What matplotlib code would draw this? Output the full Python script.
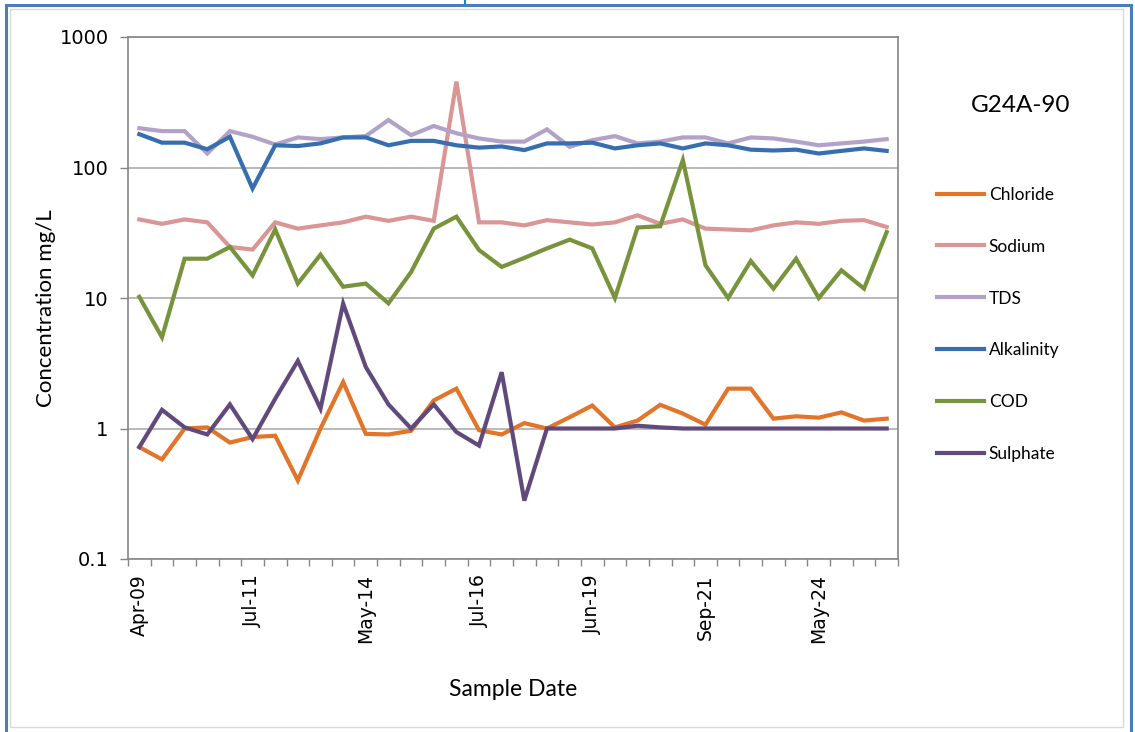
import matplotlib
matplotlib.use("Agg")
import matplotlib.pyplot as plt
from matplotlib.lines import Line2D
from matplotlib.ticker import FixedLocator, NullLocator

# === data ===
tick_labels = ['Apr-09', 'Jul-11', 'May-14', 'Jul-16', 'Jun-19', 'Sep-21', 'May-24']
tick_every = 5

chloride = [0.72, 0.58, 1.0, 1.02, 0.78, 0.86, 0.88, 0.40, 1.0, 2.27,
            0.91, 0.9, 0.96, 1.64, 2.02, 0.97, 0.9, 1.1, 1.0, 1.22,
            1.5, 1.02, 1.15, 1.52, 1.3, 1.07, 2.02, 2.02, 1.19, 1.24,
            1.21, 1.33, 1.15, 1.19]
sodium = [40, 37, 40, 38, 24.6, 23.5, 38, 34, 36, 38,
          42, 39, 42, 39, 455, 38, 38, 36, 39.5, 38,
          36.6, 38, 43, 37, 40, 34, 33.5, 33, 36, 38,
          37, 39, 39.5, 35]
tds = [200, 190, 190, 128, 190, 172, 150, 170, 165, 170,
       174, 231, 177, 208, 183, 167, 158, 158, 196, 144,
       162, 174, 153, 158, 170, 170, 153, 170, 167, 158,
       148, 153, 158, 165]
alkalinity = [180, 155, 155, 138, 172, 69, 148, 146, 153, 170,
              170, 148, 160, 160, 148, 142, 145, 136, 153, 153,
              155, 140, 148, 153, 140, 153, 148, 137, 135, 137,
              128, 134, 140, 134]
cod = [10.2, 5.0, 20, 20, 24.6, 14.9, 33.5, 12.9, 21.5, 12.2,
       12.9, 9.1, 15.8, 34, 42, 23.3, 17.3, 20.3, 24, 28,
       24, 10, 34.7, 35.5, 114, 17.8, 10, 19.2, 11.8, 20,
       10, 16.3, 11.8, 32]
sulphate = [0.72, 1.39, 1.02, 0.9, 1.53, 0.83, 1.69, 3.3, 1.42, 9.06,
            2.96, 1.53, 1.0, 1.53, 0.94, 0.74, 2.7, 0.28, 1.0, 1.0,
            1.0, 1.0, 1.05, 1.02, 1.0, 1.0, 1.0, 1.0, 1.0, 1.0,
            1.0, 1.0, 1.0, 1.0]

series = [
    ('Chloride', chloride, '#E2752A'),
    ('Sodium', sodium, '#D99694'),
    ('TDS', tds, '#B3A2C7'),
    ('Alkalinity', alkalinity, '#376EB0'),
    ('COD', cod, '#77933C'),
    ('Sulphate', sulphate, '#604A7B'),
]

label_font = 'Lato'
tick_font = 'DejaVu Sans'

fig = plt.figure(figsize=(11.35, 7.32), dpi=100)
ax = fig.add_axes([128 / 1135, 1 - 559 / 732, 770 / 1135, 522 / 732])

n = len(chloride)
xs = list(range(n))
for name, vals, col in series:
    ax.plot(xs, vals, color=col, lw=3, label=name, solid_joinstyle='miter')

ax.set_yscale('log')
ax.set_ylim(0.1, 1000)
ax.set_xlim(-0.5, n - 0.5)

yt = [0.1, 1, 10, 100, 1000]
ax.yaxis.set_major_locator(FixedLocator(yt))
ax.yaxis.set_minor_locator(NullLocator())
ax.set_yticklabels(['0.1', '1', '10', '100', '1000'], fontsize=14, family=tick_font)
ax.grid(axis='y', color='#A6A6A6', lw=1.1)
ax.set_axisbelow(True)

major = list(range(0, n, tick_every))
ax.set_xticks(major)
ax.set_xticklabels(tick_labels, rotation=90, fontsize=13.5, family=tick_font)
ax.set_xticks([i - 0.5 for i in range(n + 1)], minor=True)
ax.tick_params(axis='x', which='major', length=0, pad=11)
ax.tick_params(axis='x', which='minor', length=5, width=1, color='#868686', direction='out')
ax.tick_params(axis='y', length=6, width=1, color='#868686', direction='out', pad=8)

for sp in ax.spines.values():
    sp.set_color('#868686')
    sp.set_linewidth(1.2)

ax.set_ylabel('Concentration mg/L', fontsize=16, family=label_font)
ax.yaxis.set_label_coords(-0.093, 0.48)
ax.set_xlabel('Sample Date', fontsize=16.5, family=label_font, labelpad=26)

fig.text(1021 / 1135, 1 - 105 / 732, 'G24A-90', fontsize=17.5, family=label_font,
         ha='center', va='center')

leg = ax.legend(loc='upper left', bbox_to_anchor=(921 / 1135, 1 - 171 / 732),
                bbox_transform=fig.transFigure, frameon=False,
                prop={'family': label_font, 'size': 12.5},
                handlelength=2.75, handletextpad=0.25, labelspacing=2.07)

# chart frame
fig.add_artist(plt.Rectangle((10 / 1135, 1 - 727 / 732), 1113 / 1135, 718 / 732,
                             transform=fig.transFigure, fill=False,
                             edgecolor='#D9D9D9', lw=1))
fig.add_artist(Line2D([6 / 1135, 6 / 1135], [0, 1 - 5 / 732], transform=fig.transFigure,
                      color='#4A7EBB', lw=2.2))
fig.add_artist(Line2D([6 / 1135, 1131 / 1135], [1 - 5 / 732, 1 - 5 / 732],
                      transform=fig.transFigure, color='#4A7EBB', lw=2.2))
fig.add_artist(Line2D([1131 / 1135, 1131 / 1135], [0, 1 - 5 / 732], transform=fig.transFigure,
                      color='#4A7EBB', lw=2.2))
fig.add_artist(Line2D([465 / 1135, 465 / 1135], [1 - 4 / 732, 1], transform=fig.transFigure,
                      color='#1F7FD0', lw=1.5))

fig.savefig('out.png', dpi=100)
